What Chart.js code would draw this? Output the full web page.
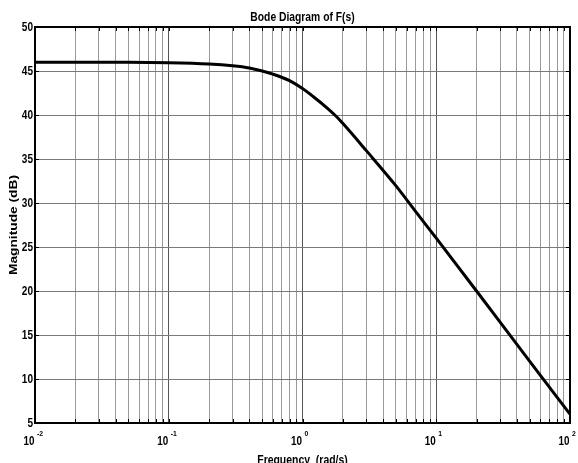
<!DOCTYPE html>
<html>
<head>
<meta charset="utf-8">
<script src="https://cdn.jsdelivr.net/npm/chart.js@4"></script>
<style>
  html, body { margin: 0; padding: 0; background: #fff; }
  #wrap { width: 578px; height: 463px; position: relative; }
</style>
</head>
<body>
<div id="wrap"><canvas id="bode"></canvas></div>
<script>
// values
const freqs = [0.01, 0.02, 0.05, 0.1, 0.2, 0.3, 0.4, 0.5, 0.6, 0.8, 1, 1.2, 1.5, 1.8, 2, 3, 5, 7, 10, 20, 50, 100];
const mags  = [46.0, 46.0, 46.0, 45.95, 45.8, 45.6, 45.35, 45.0, 44.65, 43.9, 43.0, 42.1, 40.9, 39.8, 39.05, 35.95, 31.95, 29.05, 26.0, 20.0, 12.0, 6.0];
const xTickValues = [0.01, 0.1, 1, 10, 100];
const xTickExps   = ['-2', '-1', '0', '1', '2'];
const yTicks = [5, 10, 15, 20, 25, 30, 35, 40, 45, 50];

const chartTitle = 'Bode Diagram of F(s)';
const xTitle = 'Frequency  (rad/s)';
const yTitle = 'Magnitude (dB)';

const FONT = '"Liberation Sans", Arial, sans-serif';

// grid lines at 1..9 of each decade
const xGrid = [];
for (let d = -2; d < 2; d++) {
    for (let m = 1; m < 10; m++) xGrid.push(m * Math.pow(10, d));
}
xGrid.push(100);

const isDecade = v => Math.abs(Math.log10(v) - Math.round(Math.log10(v))) < 1e-9;

// text squeezed horizontally like the reference
function drawText(ctx, text, x, y, size, align, sx, baseline) {
    ctx.save();
    ctx.translate(x, y);
    ctx.scale(sx, 1);
    ctx.font = 'bold ' + size + 'px ' + FONT;
    ctx.textAlign = align;
    ctx.textBaseline = baseline || 'alphabetic';
    ctx.fillStyle = '#000';
    ctx.fillText(text, 0, 0);
    ctx.restore();
}

const framePlugin = {
    id: 'frame',
    afterDraw(chart) {
        const ctx = chart.ctx;
        const a = chart.chartArea;
        const xs = chart.scales.x;
        const ys = chart.scales.y;
        ctx.save();
        ctx.strokeStyle = '#000';
        ctx.lineWidth = 2;
        ctx.strokeRect(a.left, a.top, a.right - a.left, a.bottom - a.top);

        // small inward tick marks
        ctx.lineWidth = 1;
        xGrid.forEach(v => {
            const px = Math.round(xs.getPixelForValue(v)) + 0.5;
            ctx.beginPath();
            ctx.moveTo(px, a.top); ctx.lineTo(px, a.top + 4);
            ctx.moveTo(px, a.bottom); ctx.lineTo(px, a.bottom - 4);
            ctx.stroke();
        });
        yTicks.forEach(v => {
            const py = Math.round(ys.getPixelForValue(v)) + 0.5;
            ctx.beginPath();
            ctx.moveTo(a.left, py); ctx.lineTo(a.left + 4, py);
            ctx.moveTo(a.right, py); ctx.lineTo(a.right - 4, py);
            ctx.stroke();
        });
        ctx.restore();

        // title
        drawText(ctx, chartTitle, (a.left + a.right) / 2, 21, 12, 'center', 0.86);

        // y tick labels
        yTicks.forEach(v => {
            drawText(ctx, String(v), a.left - 2, ys.getPixelForValue(v) + 0.5, 12, 'right', 0.84, 'middle');
        });

        // x tick labels 10^n
        xTickValues.forEach((v, i) => {
            const px = xs.getPixelForValue(v);
            drawText(ctx, '10', px - 0.5, 445, 13, 'right', 0.76);
            drawText(ctx, xTickExps[i], px + 2, 435.5, 8, 'left', 0.85);
        });

        // x title
        drawText(ctx, xTitle, (a.left + a.right) / 2, 464, 12, 'center', 0.87);

        // y title, rotated and stretched along the text
        ctx.save();
        ctx.translate(13.5, (a.top + a.bottom) / 2);
        ctx.rotate(-Math.PI / 2);
        ctx.scale(1.25, 1);
        ctx.font = 'bold 11px ' + FONT;
        ctx.textAlign = 'center';
        ctx.textBaseline = 'middle';
        ctx.fillStyle = '#000';
        ctx.fillText(yTitle, 0, 0);
        ctx.restore();
    }
};

new Chart(document.getElementById('bode'), {
    type: 'line',
    data: {
        datasets: [{
            data: freqs.map((f, i) => ({ x: f, y: mags[i] })),
            borderColor: '#000',
            borderWidth: 3,
            pointRadius: 0,
            cubicInterpolationMode: 'monotone',
            fill: false
        }]
    },
    options: {
        responsive: true,
        maintainAspectRatio: false,
        animation: false,
        layout: { padding: { top: 27, right: 8, left: 0, bottom: 0 } },
        plugins: { legend: { display: false }, tooltip: { enabled: false } },
        scales: {
            x: {
                type: 'logarithmic',
                min: 0.01,
                max: 100,
                afterBuildTicks: s => { s.ticks = xGrid.map(v => ({ value: v, major: isDecade(v) })); },
                afterFit: s => { s.height = 40; },
                ticks: { display: false },
                grid: {
                    drawTicks: false,
                    color: c => isDecade(c.tick.value) ? '#555' : '#9a9a9a',
                    lineWidth: 1
                },
                border: { display: false }
            },
            y: {
                min: 5,
                max: 50,
                afterBuildTicks: s => { s.ticks = yTicks.map(v => ({ value: v })); },
                afterFit: s => { s.width = 35; },
                ticks: { display: false },
                grid: { drawTicks: false, color: '#7a7a7a', lineWidth: 1 },
                border: { display: false }
            }
        }
    },
    plugins: [framePlugin]
});
</script>
</body>
</html>
